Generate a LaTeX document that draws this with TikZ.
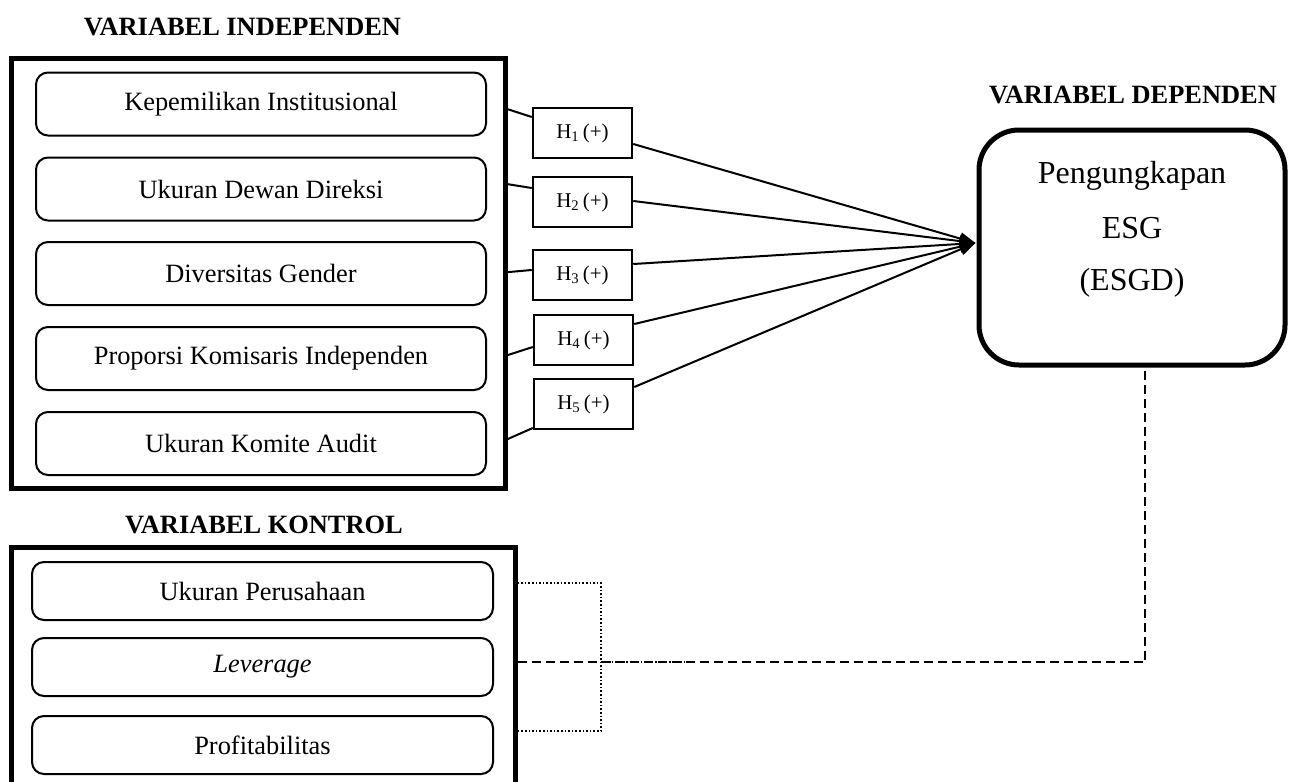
\documentclass[tikz,border=0pt]{standalone}
\usepackage{fontspec}
\setmainfont{Liberation Serif}
\usetikzlibrary{arrows.meta,calc}
\begin{document}
\begin{tikzpicture}[x=1pt,y=-1pt,
  outerbox/.style={draw,line width=5pt,inner sep=0pt},
  itembox/.style={draw,line width=2pt,rounded corners=12pt,inner sep=0pt,
    font=\fontsize{26.4}{30}\selectfont},
  hbox/.style={draw,line width=2.5pt,minimum width=99pt,minimum height=50pt,inner sep=0pt,
    font=\fontsize{21}{24}\selectfont},
  header/.style={anchor=base,font=\fontsize{26.4}{30}\selectfont\bfseries},
  conn/.style={line width=2pt},
  arr/.style={line width=2pt,-{Triangle[length=16pt,width=12pt]}},
  bigtext/.style={anchor=base,font=\fontsize{32}{36}\selectfont}
]
\useasboundingbox (0,0) rectangle (1291,782);

% headers
\node[header] (hind) at (242.5,35) {VARIABEL INDEPENDEN};
\node[header] (hdep) at (1133,103) {VARIABEL DEPENDEN};
\node[header] (hkon) at (264,533) {VARIABEL KONTROL};

% independent block
\node[outerbox,minimum width=493.3pt,minimum height=429.7pt] (indep) at (258.35,273.15) {};
\foreach \n/\y/\t in {1/104/Kepemilikan Institusional,
                      2/189/Ukuran Dewan Direksi,
                      3/273.5/Diversitas Gender,
                      4/358.5/Proporsi Komisaris Independen,
                      5/443.5/Ukuran Komite Audit}
  \node[itembox,minimum width=450pt,minimum height=63pt] (i\n) at (261,\y) {\t};

% hypothesis boxes
\node[hbox] (h1) at (582.5,133) {H\textsubscript{1}\,(+)};
\node[hbox] (h2) at (582.5,202) {H\textsubscript{2}\,(+)};
\node[hbox] (h3) at (582.5,275) {H\textsubscript{3}\,(+)};
\node[hbox] (h4) at (583.5,340) {H\textsubscript{4}\,(+)};
\node[hbox] (h5) at (583.5,404) {H\textsubscript{5}\,(+)};

% dependent block
\node[draw,line width=5pt,rounded corners=40pt,minimum width=306pt,minimum height=235pt,inner sep=0pt] (dep) at (1132,247.5) {};
\node[bigtext] (d1) at (1132,183) {Pengungkapan};
\node[bigtext] (d2) at (1132,238) {ESG};
\node[bigtext] (d3) at (1132,290) {(ESGD)};

% connectors independent -> H
\draw[conn] ($(indep.east)+(0,-164)$) -- ($(h1.west)+(0,-16)$);
\draw[conn] ($(indep.east)+(0,-89)$) -- ($(h2.west)+(0,-14)$);
\draw[conn] ($(indep.east)+(0,-1)$) -- ($(h3.west)+(0,-5)$);
\draw[conn] ($(indep.east)+(0,82)$) -- ($(h4.west)+(0,7)$);
\draw[conn] ($(indep.east)+(0,166)$) -- ($(h5.west)+(0,24)$);

% H -> dependent
\coordinate (tip) at ($(dep.west)+(-1,-4.5)$);
\draw[arr] ($(h1.east)+(0,11)$) -- (tip);
\draw[arr] ($(h2.east)+(0,-1)$) -- (tip);
\draw[arr] ($(h3.east)+(0,-11)$) -- (tip);
\draw[arr] ($(h4.east)+(0,-16)$) -- (tip);
\draw[arr] ($(h5.east)+(0,-17)$) -- (tip);

% control block
\node[outerbox,minimum width=503.5pt,minimum height=252.5pt] (ctrl) at (263.25,673.75) {};
\node[itembox,minimum width=461pt,minimum height=58pt] (c1) at (262.5,591) {Ukuran Perusahaan};
\node[itembox,minimum width=461pt,minimum height=58pt] (c2) at (262.5,667) {\textit{Leverage}};
\node[itembox,minimum width=461pt,minimum height=58pt] (c3) at (262.5,745) {Profitabilitas};

% control connectors
\coordinate (b1) at (601,583);
\coordinate (b2) at (601,731);
\coordinate (m) at (1145,662);
\draw[line width=1.6pt,dotted] (ctrl.east |- b1) -- (b1) -- (b2) -- (ctrl.east |- b2);
\draw[line width=2pt,dash pattern=on 9pt off 5pt] (ctrl.east |- m) -- (m) -- (dep.south -| m);
\draw[line width=1.6pt,dotted] (b1 |- m) -- ($(b1 |- m)+(89,0)$);
\end{tikzpicture}
\end{document}
